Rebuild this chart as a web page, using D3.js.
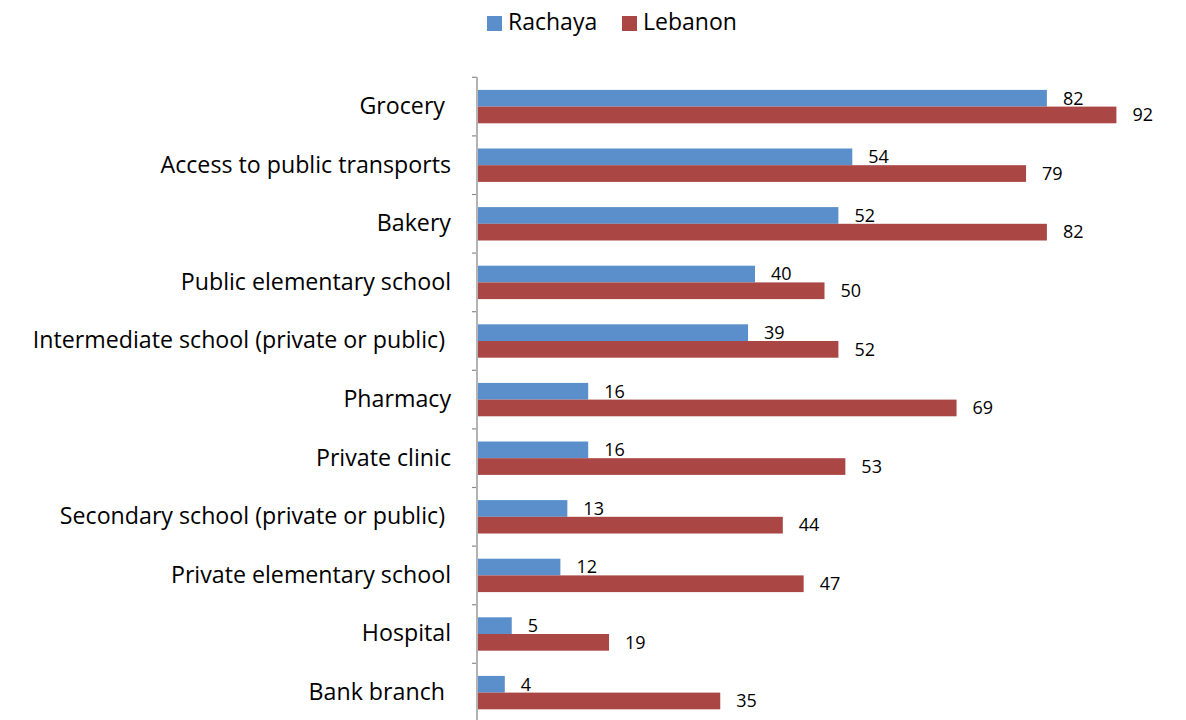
<!DOCTYPE html>
<html>
<head>
<meta charset="utf-8">
<script src="https://cdn.jsdelivr.net/npm/d3@7"></script>
<style>
  body { margin: 0; background: #fff; }
  svg text { font-family: "Open Sans", sans-serif; fill: #000; white-space: pre; }
</style>
</head>
<body>
<svg id="chart" width="1186" height="720"></svg>
<script>
// ---------------------------------------------
//  Data
// ---------------------------------------------
const categories = [
  "Grocery ",
  "Access to public transports",
  "Bakery",
  "Public elementary school",
  "Intermediate school (private or public) ",
  "Pharmacy",
  "Private clinic",
  "Secondary school (private or public) ",
  "Private elementary school",
  "Hospital",
  "Bank branch "
];
const seriesNames = ["Rachaya", "Lebanon"];
const rachaya = [82, 54, 52, 40, 39, 16, 16, 13, 12, 5, 4];
const lebanon = [92, 79, 82, 50, 52, 69, 53, 44, 47, 19, 35];
const colors = ["#5B8FCC", "#AA4644"];

// ---------------------------------------------
//  Scales
// ---------------------------------------------
const svg = d3.select("#chart");
const axisX = 477;

const x = d3.scaleLinear().domain([0, 100]).range([axisX, 1172]);
const y = d3.scaleBand().domain(categories).range([77.3, 721.9]).padding(0);
const ySub = d3.scaleBand().domain(seriesNames)
  .range([12.6, 12.6 + 33.4]).padding(0);

const rows = categories.map((c, i) => ({ cat: c, values: [rachaya[i], lebanon[i]] }));

// ---------------------------------------------
//  Bars + value labels
// ---------------------------------------------
const groups = svg.selectAll(".group")
  .data(rows)
  .enter().append("g")
  .attr("class", "group")
  .attr("transform", d => `translate(0,${y(d.cat)})`);

groups.selectAll("rect")
  .data(d => d.values.map((v, k) => ({ v, s: seriesNames[k], k })))
  .enter().append("rect")
  .attr("x", x(0))
  .attr("y", d => ySub(d.s))
  .attr("width", d => x(d.v) - x(0))
  .attr("height", ySub.bandwidth())
  .attr("fill", d => colors[d.k]);

groups.selectAll(".val")
  .data(d => d.values.map((v, k) => ({ v, s: seriesNames[k], k })))
  .enter().append("text")
  .attr("class", "val")
  .attr("x", d => x(d.v) + 16)
  .attr("y", d => ySub(d.s) + ySub.bandwidth() / 2 + 1.5)
  .attr("dominant-baseline", "middle")
  .attr("font-size", 18)
  .text(d => d.v);

// ---------------------------------------------
//  Category axis
// ---------------------------------------------
const yAxis = d3.axisLeft(y).tickSize(0).tickPadding(26);
const gAxis = svg.append("g")
  .attr("transform", `translate(${axisX},0)`)
  .call(yAxis);
gAxis.select(".domain").remove();
gAxis.selectAll("text")
  .attr("font-size", 23.2)
  .attr("font-family", "Open Sans, sans-serif")
  .attr("fill", "#000");

// boundary tick marks between categories
const bounds = categories.map(c => y(c)).concat([y.range()[1]]);
svg.selectAll(".btick")
  .data(bounds)
  .enter().append("line")
  .attr("x1", axisX - 5).attr("x2", axisX)
  .attr("y1", d => d).attr("y2", d => d)
  .attr("stroke", "#8c8c8c").attr("stroke-width", 1.2);

svg.append("line")
  .attr("x1", axisX).attr("x2", axisX)
  .attr("y1", y.range()[0]).attr("y2", 720)
  .attr("stroke", "#b3b3b3").attr("stroke-width", 2);

// ---------------------------------------------
//  Legend
// ---------------------------------------------
const legendX = [487, 622];
const legend = svg.selectAll(".legend")
  .data(seriesNames)
  .enter().append("g")
  .attr("class", "legend")
  .attr("transform", (d, i) => `translate(${legendX[i]},16)`);

legend.append("rect")
  .attr("width", 15).attr("height", 15)
  .attr("fill", (d, i) => colors[i]);

legend.append("text")
  .attr("x", 21).attr("y", 8)
  .attr("dominant-baseline", "middle")
  .attr("font-size", 23)
  .text(d => d);
</script>
</body>
</html>
